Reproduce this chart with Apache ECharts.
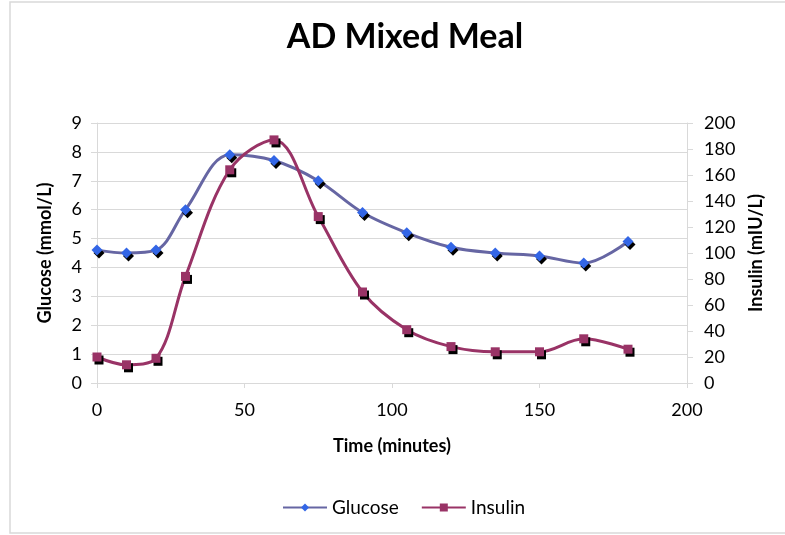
<!DOCTYPE html>
<html><head><meta charset="utf-8">
<script src="https://cdn.jsdelivr.net/npm/echarts@6/dist/echarts.min.js"></script>
<style>html,body{margin:0;padding:0;background:#fff}#c{width:785px;height:535px}</style>
</head><body><div id="c"></div>
<script>
const times = [0,10,20,30,45,60,75,90,105,120,135,150,165,180];
const glucose = [4.6,4.5,4.6,6.0,7.9,7.7,7.0,5.9,5.2,4.7,4.5,4.4,4.15,4.9];
const insulin = [20,14,19,82,164,187,128,70,41,28,24,24,34,26];
const leftTicks = {min:0,max:9,interval:1};
const rightTicks = {min:0,max:200,interval:20};
const xTicks = {min:0,max:200,interval:50};

const font = 'Lato, "Open Sans", sans-serif';
const chart = echarts.init(document.getElementById('c'), null, {renderer:'canvas'});
const pair = (xs, ys) => xs.map((x,i)=>[x, ys[i]]);
const shadow = {shadowColor:'#000', shadowOffsetX:2, shadowOffsetY:3, shadowBlur:0};
chart.setOption({
  animation:false,
  backgroundColor:'#fff',
  graphic:[{type:'rect', shape:{x:10,y:2,width:800,height:531}, style:{fill:'none', stroke:'#d9d9d9', lineWidth:1.5}, silent:true}],
  title:{text:'AD Mixed Meal', left:400, textAlign:'center', top:15, textStyle:{fontFamily:font, fontSize:34, fontWeight:'bold', color:'#000'}},
  legend:{bottom:13, left:277, itemGap:22, itemWidth:44, itemHeight:10, textStyle:{fontFamily:font, fontSize:19, color:'#000'},
    itemStyle:{shadowBlur:0, shadowOffsetX:0, shadowOffsetY:0, shadowColor:'transparent'},
    data:['Glucose','Insulin']},
  grid:{left:97, right:98, top:123, bottom:152},
  xAxis:{type:'value', min:xTicks.min, max:xTicks.max, interval:xTicks.interval,
    name:'Time (minutes)', nameLocation:'middle', nameGap:54,
    nameTextStyle:{fontFamily:font, fontSize:18, fontWeight:'bold', color:'#000'},
    axisLine:{show:true, lineStyle:{color:'#d9d9d9'}}, axisTick:{show:true, length:5, lineStyle:{color:'#d9d9d9'}},
    axisLabel:{fontFamily:font, fontSize:18, color:'#000', margin:18}, splitLine:{show:false}},
  yAxis:[
    {type:'value', min:leftTicks.min, max:leftTicks.max, interval:leftTicks.interval, position:'left',
     name:'Glucose (mmol/L)', nameLocation:'middle', nameGap:43,
     nameTextStyle:{fontFamily:font, fontSize:18, fontWeight:'bold', color:'#000'},
     axisLine:{show:true, lineStyle:{color:'#d9d9d9'}}, axisTick:{show:true, length:6, lineStyle:{color:'#d9d9d9'}},
     axisLabel:{fontFamily:font, fontSize:18, color:'#000', margin:15},
     splitLine:{show:true, lineStyle:{color:'#d9d9d9', width:1}}},
    {type:'value', min:rightTicks.min, max:rightTicks.max, interval:rightTicks.interval, position:'right',
     name:'Insulin (mIU/L)', nameLocation:'middle', nameGap:60, nameRotate:90,
     nameTextStyle:{fontFamily:font, fontSize:18, fontWeight:'bold', color:'#000'},
     axisLine:{show:true, lineStyle:{color:'#d9d9d9'}}, axisTick:{show:true, length:6, lineStyle:{color:'#d9d9d9'}},
     axisLabel:{fontFamily:font, fontSize:18, color:'#000', margin:17},
     splitLine:{show:false}}
  ],
  series:[
    {name:'Glucose', type:'line', yAxisIndex:0, data:pair(times, glucose), smooth:0.35,
     symbol:'diamond', symbolSize:11,
     lineStyle:{color:'#6666A3', width:3},
     itemStyle:Object.assign({color:'#3366E6'}, shadow)},
    {name:'Insulin', type:'line', yAxisIndex:1, data:pair(times, insulin), smooth:0.35,
     symbol:'rect', symbolSize:9,
     lineStyle:{color:'#993366', width:3},
     itemStyle:Object.assign({color:'#993366'}, shadow)}
  ]
});
</script></body></html>
